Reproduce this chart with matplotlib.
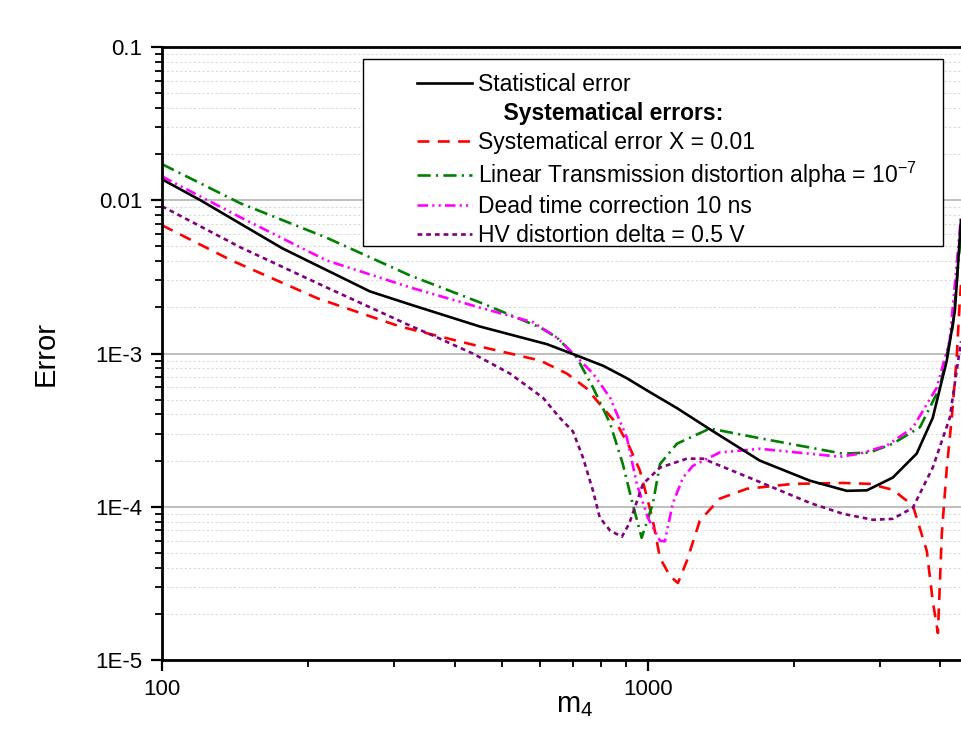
import numpy as np
import matplotlib
matplotlib.use("Agg")
import matplotlib.pyplot as plt
from matplotlib.lines import Line2D
from matplotlib.patches import Rectangle
from matplotlib.ticker import LogLocator, FixedLocator, FixedFormatter, NullFormatter

plt.rcParams['font.family'] = ['Liberation Sans', 'DejaVu Sans']

# statistical error
stat_x = [100, 120, 177, 268, 324, 451, 620, 714, 810, 905, 1009, 1148, 1342, 1700,
          2154, 2567, 2824, 3192, 3574, 3857, 4123, 4284, 4410]
stat_y = [0.0137, 0.0100, 0.00485, 0.00254, 0.00209, 0.0015, 0.00115, 0.00097,
          0.00083, 0.00069, 0.00056, 0.00044, 0.00032, 0.0002, 0.000148, 0.000127,
          0.000128, 0.000155, 0.000222, 0.00038, 0.0009, 0.0019, 0.0074]

# systematical error X = 0.01
sysx_x = [100, 139, 209, 309, 457, 600, 681, 749, 807, 863, 918, 963, 996, 1024,
          1059, 1110, 1153, 1203, 1279, 1406, 1599, 1988, 2519, 2862, 3192,
          3510, 3750, 3857, 3953, 4027, 4123, 4221, 4321, 4385, 4410]
sysx_y = [0.00687, 0.00405, 0.00229, 0.0015, 0.0011, 0.0009, 0.00074, 0.00059,
          0.000444, 0.000348, 0.000243, 0.000172, 0.000115, 0.000081, 0.0000464,
          0.0000354, 0.0000318, 0.0000444, 0.000081, 0.000113, 0.000131,
          0.000141, 0.000143, 0.000141, 0.000129, 0.000102, 0.0000515,
          0.0000243, 0.000015, 0.0000667, 0.00018, 0.00038, 0.00094, 0.00222,
          0.0028]

# linear transmission distortion
lin_x = [100, 145, 218, 324, 457, 600, 650, 714, 771, 836, 888, 930, 971, 1024,
         1059, 1148, 1342, 1700, 2519, 2862, 3192, 3630, 3989, 4242, 4410]
lin_y = [0.0172, 0.00955, 0.0057, 0.00323, 0.00212, 0.00148, 0.00127, 0.00094,
         0.0006, 0.00035, 0.00019, 0.000105, 0.0000627, 0.000105, 0.00019,
         0.000258, 0.000324, 0.00028, 0.000222, 0.000226, 0.000258, 0.00033,
         0.0006, 0.0015, 0.0062]

# dead time correction
dead_x = [100, 145, 218, 324, 457, 580, 650, 691, 771, 836, 905, 949, 1000, 1059,
          1084, 1125, 1181, 1238, 1406, 1700, 2484, 2731, 3103, 3510, 3933,
          4181, 4410]
dead_y = [0.0143, 0.00774, 0.00405, 0.0027, 0.00197, 0.0016, 0.00127, 0.00105,
          0.00074, 0.000515, 0.000283, 0.000141, 0.0000847, 0.00006, 0.0000595,
          0.000105, 0.000155, 0.000185, 0.000226, 0.000239, 0.000212, 0.000222,
          0.000251, 0.000328, 0.0006, 0.00122, 0.0078]

# HV distortion
hv_x = [100, 145, 218, 324, 361, 436, 520, 608, 659, 701, 735, 771, 796, 836,
        884, 915, 977, 1059, 1203, 1298, 1700, 2154, 2519, 2904, 3192, 3510,
        3857, 4181, 4410]
hv_y = [0.00914, 0.00493, 0.0027, 0.00152, 0.00131, 0.001, 0.00074, 0.000515,
        0.00038, 0.00031, 0.00021, 0.000127, 0.000085, 0.00007, 0.0000637,
        0.0000774, 0.000141, 0.00018, 0.000206, 0.000206, 0.000145, 0.000106,
        0.00009, 0.0000822, 0.0000834, 0.0000985, 0.00018, 0.00038, 0.0012]

yticks = [1e-5, 1e-4, 1e-3, 1e-2, 1e-1]
ytick_labels = ['1E-5', '1E-4', '1E-3', '0.01', '0.1']
xticks = [100, 1000]
xtick_labels = ['100', '1000']

fig = plt.figure(figsize=(9.61, 7.46), dpi=100)
ax = fig.add_axes([162 / 961, 86 / 746, 799 / 961, 613 / 746])

lw = 1.9
red_d = (4.5, 3.2)
green_d = (5, 2, 0.8, 2)
mag_d = (4, 1.6, 0.8, 1.6, 0.8, 1.6)
pur_d = (1.8, 1.5)
ax.plot(stat_x, stat_y, color='black', lw=lw, zorder=5)
ax.plot(sysx_x, sysx_y, color='#ff0000', lw=lw, dashes=red_d)
ax.plot(lin_x, lin_y, color='#008000', lw=lw, dashes=green_d)
ax.plot(dead_x, dead_y, color='#ff00ff', lw=lw, dashes=mag_d)
ax.plot(hv_x, hv_y, color='#800080', lw=lw, dashes=pur_d)

ax.set_xscale('log')
ax.set_yscale('log')
ax.set_xlim(100, 4410)
ax.set_ylim(1e-5, 0.1)

ax.xaxis.set_major_locator(FixedLocator(xticks))
ax.xaxis.set_major_formatter(FixedFormatter(xtick_labels))
ax.xaxis.set_minor_locator(LogLocator(base=10, subs=np.arange(2, 10)))
ax.xaxis.set_minor_formatter(NullFormatter())
ax.yaxis.set_major_locator(FixedLocator(yticks))
ax.yaxis.set_major_formatter(FixedFormatter(ytick_labels))
ax.yaxis.set_minor_locator(LogLocator(base=10, subs=np.arange(2, 10)))
ax.yaxis.set_minor_formatter(NullFormatter())

ax.grid(which='major', axis='y', color='#b4b4b4', lw=1.2)
ax.grid(which='minor', axis='y', color='#dadada', lw=0.8, ls=(0, (2, 2)))
ax.set_axisbelow(True)

ax.tick_params(which='major', direction='out', length=8, width=1.6,
               labelsize=16, pad=6)
ax.tick_params(which='minor', direction='out', length=5, width=1.3)
for s in ['left', 'bottom', 'top']:
    ax.spines[s].set_linewidth(2)
ax.spines['right'].set_visible(False)

ax.set_ylabel('Error', fontsize=21)
ax.yaxis.set_label_coords(-0.128, 0.5)
ax.set_xlabel(r'$\mathregular{m_4}$', fontsize=21)
ax.xaxis.set_label_coords(0.517, -0.051)

# legend box drawn separately so its padding matches the original
ax.add_patch(Rectangle((0.2516, 0.675), 0.977 - 0.2516, 0.980 - 0.675,
                       transform=ax.transAxes, facecolor='white',
                       edgecolor='black', lw=1, zorder=10))
handles = [
    Line2D([], [], color='black', lw=lw),
    Line2D([], [], color='none'),
    Line2D([], [], color='#ff0000', lw=lw, dashes=red_d),
    Line2D([], [], color='#008000', lw=lw, dashes=green_d),
    Line2D([], [], color='#ff00ff', lw=lw, dashes=mag_d),
    Line2D([], [], color='#800080', lw=lw, dashes=pur_d),
]
labels = ['Statistical error', '    Systematical errors:',
          'Systematical error X = 0.01',
          r'Linear Transmission distortion alpha = $\mathregular{10^{-7}}$',
          'Dead time correction 10 ns', 'HV distortion delta = 0.5 V']
leg = ax.legend(handles, labels, loc='upper left',
                bbox_to_anchor=((417 - 162) / 799, 0.957), frameon=False,
                fontsize=16.5, handlelength=2.4, handletextpad=0.28,
                labelspacing=0.25, borderpad=0, borderaxespad=0)
leg.set_zorder(11)
leg.get_texts()[1].set_fontweight('bold')

fig.savefig('out.png', dpi=100)
